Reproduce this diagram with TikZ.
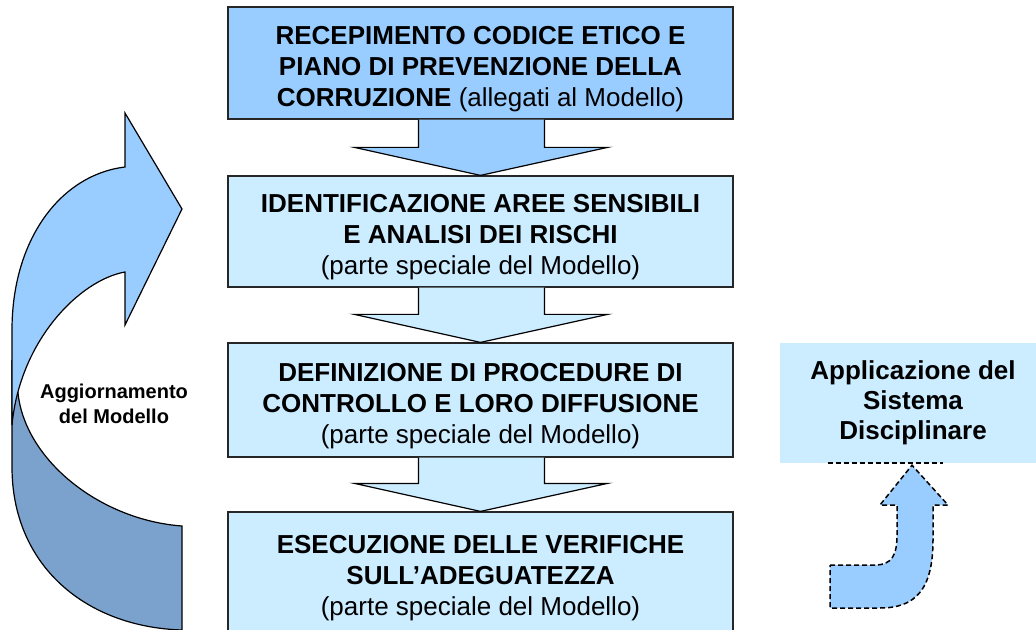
\documentclass[tikz,border=0pt]{standalone}
\usepackage{fontspec}
\setmainfont{Liberation Sans}
\usetikzlibrary{calc}

\definecolor{boxtop}{HTML}{99CCFF}
\definecolor{boxlight}{HTML}{CCECFF}
\definecolor{loopdark}{HTML}{7BA2CC}

\newcommand{\topstrut}{\rule{0pt}{30bp}}

\tikzset{
  stepbox/.style={draw=black!85, line width=1.2bp, minimum width=505bp, inner sep=0pt,
    align=center, font=\fontsize{26bp}{31bp}\selectfont\bfseries},
  sidebox/.style={fill=boxlight, minimum width=266bp, minimum height=120bp, inner sep=0pt,
    align=center, font=\fontsize{26bp}{30bp}\selectfont\bfseries},
  shapeline/.style={draw=black, line width=1.2bp},
  dashline/.style={draw=black, line width=1.5bp, dash pattern=on 5bp off 3bp},
}

\begin{document}
\begin{tikzpicture}[x=1bp,y=-1bp]
\useasboundingbox (0,0) rectangle (1036,630);

% loop arrow on the left
\filldraw[shapeline, fill=loopdark] (12,360) -- (12,467)
    .. controls (12,565) and (85,627) .. (182,630) -- (182,526)
    .. controls (100,520) and (25,460) .. (18,393) -- cycle;
\filldraw[shapeline, fill=boxtop] (125,167) .. controls (60,175) and (12,240) .. (12,330)
    -- (12,425) .. controls (20,340) and (80,280) .. (125,272)
    -- (125,325) -- (182,209) -- (125,113) -- cycle;
\node[font=\fontsize{20bp}{25bp}\selectfont\bfseries, align=center] (upd) at (114,404)
    {Aggiornamento\\del Modello};

% steps
\node[stepbox, fill=boxtop, minimum height=112bp] (b1) at (480.5,63)
    {\topstrut RECEPIMENTO CODICE ETICO E\\PIANO DI PREVENZIONE DELLA\\CORRUZIONE {\mdseries(allegati al Modello)}};
\node[stepbox, fill=boxlight, minimum height=111bp] (b2) at (480.5,231.5)
    {\topstrut IDENTIFICAZIONE AREE SENSIBILI\\E ANALISI DEI RISCHI\\{\mdseries(parte speciale del Modello)}};
\node[stepbox, fill=boxlight, minimum height=114bp] (b3) at (480.5,400)
    {\topstrut DEFINIZIONE DI PROCEDURE DI\\CONTROLLO E LORO DIFFUSIONE\\{\mdseries(parte speciale del Modello)}};
\node[stepbox, fill=boxlight, minimum height=120bp] (b4) at (480.5,572)
    {\topstrut ESECUZIONE DELLE VERIFICHE\\SULL'ADEGUATEZZA\\{\mdseries(parte speciale del Modello)}};

% block arrows between the steps
\foreach \a/\b/\c in {b1/b2/boxtop, b2/b3/boxlight, b3/b4/boxlight}
  \filldraw[shapeline, fill=\c] ($(\a.south)+(-62,0)$) -- ($(\b.north)+(-62,-28)$)
      -- ($(\b.north)+(-126,-28)$) -- (\b.north) -- ($(\b.north)+(127,-28)$)
      -- ($(\b.north)+(64,-28)$) -- ($(\a.south)+(64,0)$);

% disciplinary system
\node[sidebox] (disc) at (913,403) {Applicazione del\\Sistema\\Disciplinare};
\draw[dashline] ($(disc.south)+(-85,0)$) -- ($(disc.south)+(30,0)$);
\filldraw[dashline, fill=boxtop] (830,565) -- (875,565)
    .. controls (892,565) and (897,555) .. (897,535) -- (897,505) -- (880,505)
    -- ($(disc.south)+(-1,2)$) -- (948,505) -- (933,505) -- (933,540)
    .. controls (933,590) and (915,608) .. (880,608) -- (830,608) -- cycle;
\end{tikzpicture}
\end{document}
